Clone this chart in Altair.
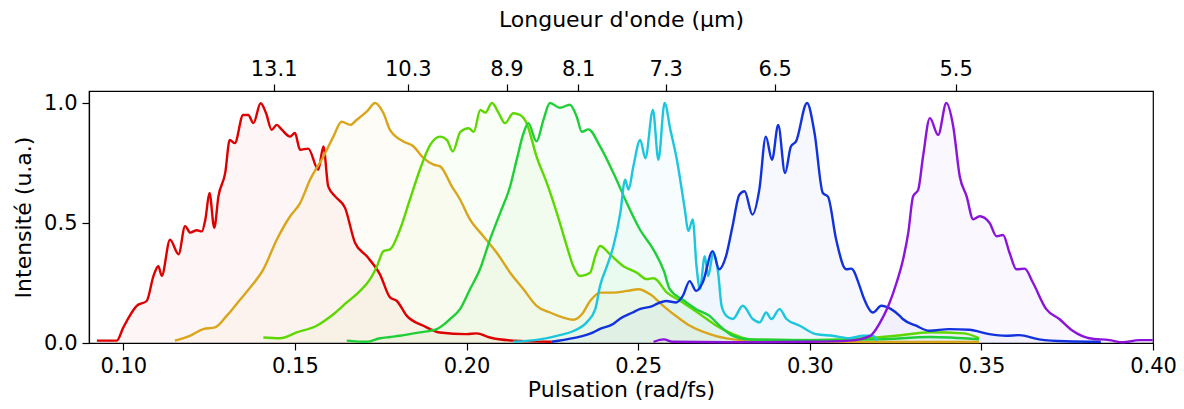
import math
import altair as alt
import pandas as pd

# ---------------- data ----------------
names = ["s1", "s2", "s3", "s4", "s5", "s6", "s7"]
colors = ["#dd0000", "#d9a51a", "#5cd800", "#1fcf38", "#1cc6dc", "#1232dd", "#8c14da"]

red_w = [0.0923, 0.0981, 0.1000, 0.1039, 0.1068, 0.1088, 0.1102, 0.1112, 0.1136, 0.1161,
         0.1180, 0.1195, 0.1214, 0.1229, 0.1239, 0.1251, 0.1265, 0.1277, 0.1297, 0.1310,
         0.1325, 0.1349, 0.1364, 0.1379, 0.1400, 0.1416, 0.1432, 0.1447, 0.1461, 0.1486,
         0.1500, 0.1515, 0.1539, 0.1568, 0.1583, 0.1597, 0.1617, 0.1646, 0.1675, 0.1709,
         0.1748, 0.1777, 0.1797, 0.1826, 0.1874, 0.1922, 0.2000, 0.2029, 0.2068, 0.2136,
         0.2248]
red_i = [0.01, 0.01, 0.065, 0.155, 0.175, 0.28, 0.32, 0.28, 0.43, 0.37,
         0.487, 0.46, 0.47, 0.465, 0.515, 0.625, 0.48, 0.61, 0.71, 0.846,
         0.833, 0.95, 0.95, 0.916, 0.999, 0.957, 0.888, 0.909, 0.89, 0.86,
         0.875, 0.805, 0.81, 0.722, 0.819, 0.653, 0.611, 0.563, 0.418, 0.362,
         0.285, 0.19, 0.175, 0.113, 0.072, 0.044, 0.037, 0.04, 0.023, 0.01,
         0.005]

gold_w = [0.1150, 0.1194, 0.1233, 0.1267, 0.1301, 0.1340, 0.1369, 0.1408, 0.1447, 0.1486,
          0.1515, 0.1544, 0.1583, 0.1612, 0.1636, 0.1661, 0.1680, 0.1709, 0.1734, 0.1758,
          0.1777, 0.1816, 0.1845, 0.1875, 0.1904, 0.1923, 0.1957, 0.1981, 0.2010, 0.2049,
          0.2088, 0.2127, 0.2166, 0.2204, 0.2243, 0.2282, 0.2311, 0.2336, 0.2360, 0.2389,
          0.2428, 0.2467, 0.2501, 0.2535, 0.2573, 0.2622, 0.2651, 0.2709, 0.2777, 0.2900,
          0.3200, 0.3493]
gold_i = [0.01, 0.03, 0.058, 0.065, 0.113, 0.18, 0.23, 0.307, 0.43, 0.528,
          0.583, 0.68, 0.777, 0.86, 0.922, 0.909, 0.93, 0.964, 1.0, 0.957,
          0.888, 0.84, 0.82, 0.77, 0.743, 0.736, 0.653, 0.598, 0.515, 0.445,
          0.376, 0.293, 0.224, 0.155, 0.127, 0.106, 0.097, 0.12, 0.175, 0.21,
          0.21, 0.217, 0.224, 0.203, 0.155, 0.1, 0.072, 0.037, 0.015, 0.006,
          0.004, 0.004]

lime_w = [0.1408, 0.1456, 0.1505, 0.1563, 0.1612, 0.1651, 0.1690, 0.1719, 0.1739, 0.1758,
          0.1777, 0.1806, 0.1835, 0.1864, 0.1894, 0.1923, 0.1943, 0.1960, 0.1982, 0.2006,
          0.2021, 0.2040, 0.2055, 0.2074, 0.2094, 0.2112, 0.2136, 0.2156, 0.2175, 0.2204,
          0.2234, 0.2263, 0.2292, 0.2311, 0.2331, 0.2360, 0.2375, 0.2389, 0.2418, 0.2457,
          0.2496, 0.2525, 0.2545, 0.2584, 0.2623, 0.2680, 0.2728, 0.2776, 0.2825, 0.2950,
          0.3100, 0.3250, 0.3350, 0.3450, 0.3493]
lime_i = [0.023, 0.02, 0.044, 0.072, 0.12, 0.169, 0.217, 0.266, 0.32, 0.383,
          0.39, 0.473, 0.598, 0.722, 0.826, 0.86, 0.845, 0.798, 0.88, 0.895,
          0.88, 0.971, 0.96, 1.0, 0.957, 0.916, 0.957, 0.95, 0.916, 0.777,
          0.666, 0.542, 0.404, 0.32, 0.279, 0.293, 0.362, 0.404, 0.369, 0.32,
          0.293, 0.266, 0.27, 0.21, 0.175, 0.12, 0.072, 0.037, 0.015, 0.012,
          0.015, 0.03, 0.045, 0.04, 0.02]

green_w = [0.1651, 0.1709, 0.1748, 0.1777, 0.1806, 0.1864, 0.1913, 0.1952, 0.1981, 0.2010,
           0.2039, 0.2068, 0.2098, 0.2127, 0.2146, 0.2166, 0.2180, 0.2204, 0.2224, 0.2243,
           0.2272, 0.2301, 0.2321, 0.2336, 0.2355, 0.2389, 0.2428, 0.2467, 0.2505, 0.2544,
           0.2575, 0.2592, 0.2630, 0.2669, 0.2708, 0.2737, 0.2776, 0.2825, 0.3000, 0.3200,
           0.3350, 0.3493]
green_i = [0.01, 0.005, 0.02, 0.025, 0.03, 0.044, 0.058, 0.1, 0.141, 0.224,
           0.307, 0.43, 0.542, 0.653, 0.763, 0.874, 0.916, 0.84, 0.93, 1.0,
           0.98, 0.993, 0.943, 0.88, 0.89, 0.819, 0.708, 0.583, 0.473, 0.39,
           0.30, 0.224, 0.18, 0.141, 0.113, 0.072, 0.03, 0.015, 0.012, 0.015,
           0.025, 0.015]

cyan_w = [0.2136, 0.2214, 0.2263, 0.2311, 0.2350, 0.2375, 0.2389, 0.2409, 0.2428, 0.2448,
          0.2462, 0.2472, 0.2486, 0.2506, 0.2521, 0.2543, 0.2559, 0.2577, 0.2594, 0.2612,
          0.2636, 0.2646, 0.2659, 0.2670, 0.2680, 0.2694, 0.2704, 0.2719, 0.2733, 0.2743,
          0.2757, 0.2776, 0.2805, 0.2834, 0.2854, 0.2873, 0.2888, 0.2912, 0.2932, 0.2971,
          0.3018, 0.3067, 0.3116, 0.3155, 0.3184, 0.3195]
cyan_i = [0.005, 0.015, 0.03, 0.05, 0.086, 0.141, 0.238, 0.32, 0.404, 0.542,
          0.68, 0.639, 0.736, 0.846, 0.77, 0.971, 0.763, 1.0, 0.888, 0.77,
          0.556, 0.466, 0.515, 0.32, 0.224, 0.362, 0.279, 0.376, 0.293, 0.155,
          0.113, 0.1, 0.155, 0.1, 0.086, 0.127, 0.1, 0.141, 0.1, 0.072,
          0.037, 0.03, 0.02, 0.03, 0.03, 0.01]

blue_w = [0.2248, 0.2310, 0.2369, 0.2387, 0.2427, 0.2446, 0.2484, 0.2504, 0.2543, 0.2553,
          0.2582, 0.2611, 0.2630, 0.2650, 0.2669, 0.2688, 0.2717, 0.2736, 0.2756, 0.2775,
          0.2795, 0.2810, 0.2833, 0.2853, 0.2872, 0.2890, 0.2908, 0.2928, 0.2945, 0.2960,
          0.2992, 0.3014, 0.3038, 0.3053, 0.3077, 0.3106, 0.3121, 0.3145, 0.3155, 0.3184,
          0.3208, 0.3237, 0.3262, 0.3271, 0.3310, 0.3349, 0.3406, 0.3465, 0.3523, 0.3572,
          0.3610, 0.3668, 0.3746, 0.3848]
blue_i = [0.005, 0.02, 0.044, 0.058, 0.079, 0.1, 0.127, 0.141, 0.155, 0.162,
          0.175, 0.169, 0.196, 0.258, 0.217, 0.252, 0.383, 0.307, 0.362, 0.487,
          0.618, 0.632, 0.535, 0.639, 0.86, 0.763, 0.909, 0.708, 0.819, 0.84,
          1.0, 0.874, 0.625, 0.61, 0.43, 0.307, 0.31, 0.238, 0.196, 0.127,
          0.155, 0.141, 0.113, 0.1, 0.072, 0.051, 0.058, 0.055, 0.037, 0.03,
          0.033, 0.015, 0.007, 0.005]

purple_w = [0.2545, 0.2575, 0.2600, 0.2800, 0.3000, 0.3117, 0.3176, 0.3205, 0.3229, 0.3253,
            0.3272, 0.3287, 0.3301, 0.3316, 0.3330, 0.3350, 0.3374, 0.3398, 0.3418, 0.3437,
            0.3457, 0.3476, 0.3495, 0.3524, 0.3544, 0.3563, 0.3582, 0.3602, 0.3626, 0.3650,
            0.3689, 0.3727, 0.3766, 0.3814, 0.3873, 0.3912, 0.3960, 0.3999]
purple_i = [0.005, 0.015, 0.005, 0.003, 0.005, 0.01, 0.03, 0.086, 0.155, 0.252,
            0.349, 0.46, 0.611, 0.639, 0.777, 0.937, 0.867, 1.0, 0.902, 0.694,
            0.611, 0.515, 0.528, 0.5, 0.445, 0.45, 0.376, 0.307, 0.31, 0.252,
            0.141, 0.1, 0.051, 0.02, 0.012, 0.003, 0.012, 0.012]

# wavelengths shown on the top axis (µm)
wavelengths = [13.1, 10.3, 8.9, 8.1, 7.3, 6.5, 5.5]
C_UM_PER_FS = 0.299792458

# ---------------- build tables ----------------
all_series = [(red_w, red_i), (gold_w, gold_i), (lime_w, lime_i), (green_w, green_i),
              (cyan_w, cyan_i), (blue_w, blue_i), (purple_w, purple_i)]
rows = []
for name, (ws, vals) in zip(names, all_series):
    for w, v in zip(ws, vals):
        rows.append({"serie": name, "w": w, "I": v})
df = pd.DataFrame(rows)

omegas = [2 * math.pi * C_UM_PER_FS / lam for lam in wavelengths]
top_df = pd.DataFrame({"w": omegas})

FONT = "DejaVu Sans"
x_scale = alt.Scale(domain=[0.09, 0.40], nice=False, zero=False)
y_scale = alt.Scale(domain=[0, 1.05], nice=False, zero=False)
color = alt.Color("serie:N", scale=alt.Scale(domain=names, range=colors), legend=None)

common_axis = dict(grid=False, domainColor="black", domainWidth=1.2, tickColor="black",
                   tickWidth=1.2, tickSize=7, labelFont=FONT, labelFontSize=21,
                   labelColor="black", titleFont=FONT, titleFontSize=22,
                   titleColor="black", titleFontWeight="normal", labelPadding=5)

bottom_axis = alt.Axis(orient="bottom", values=[0.10, 0.15, 0.20, 0.25, 0.30, 0.35, 0.40],
                       format=".2f", title="Pulsation (rad/fs)", titlePadding=3,
                       labelFlush=False, **common_axis)
left_axis = alt.Axis(values=[0.0, 0.5, 1.0], format=".1f", title="Intensité (u.a.)",
                     titlePadding=8, labelFlush=False, **common_axis)
top_axis = alt.Axis(orient="top", values=omegas,
                    labelExpr="format(2*PI*%r/datum.value, '.1f')" % C_UM_PER_FS,
                    title="Longueur d'onde (µm)", titlePadding=27, labelFlush=False,
                    **common_axis)

area = alt.Chart(df).mark_area(opacity=0.035, interpolate="monotone").encode(
    x=alt.X("w:Q", scale=x_scale, axis=bottom_axis),
    y=alt.Y("I:Q", scale=y_scale, axis=left_axis, stack=None),
    color=color,
)

line = alt.Chart(df).mark_line(strokeWidth=2.4, interpolate="monotone").encode(
    x=alt.X("w:Q", scale=x_scale, axis=None),
    y=alt.Y("I:Q", scale=y_scale, stack=None),
    color=color,
)

top = alt.Chart(top_df).mark_point(opacity=0).encode(
    x=alt.X("w:Q", scale=x_scale, axis=top_axis),
    y=alt.value(0),
)

chart = alt.layer(area, line, top).resolve_axis(x="independent").properties(
    width=1064, height=252,
    autosize=alt.AutoSizeParams(type="none"),
    padding={"left": 81, "top": 83, "right": 23, "bottom": 58},
).configure_view(stroke="black", strokeWidth=1.2)

chart.save("out.html", embed_options={"renderer": "svg", "actions": False})
